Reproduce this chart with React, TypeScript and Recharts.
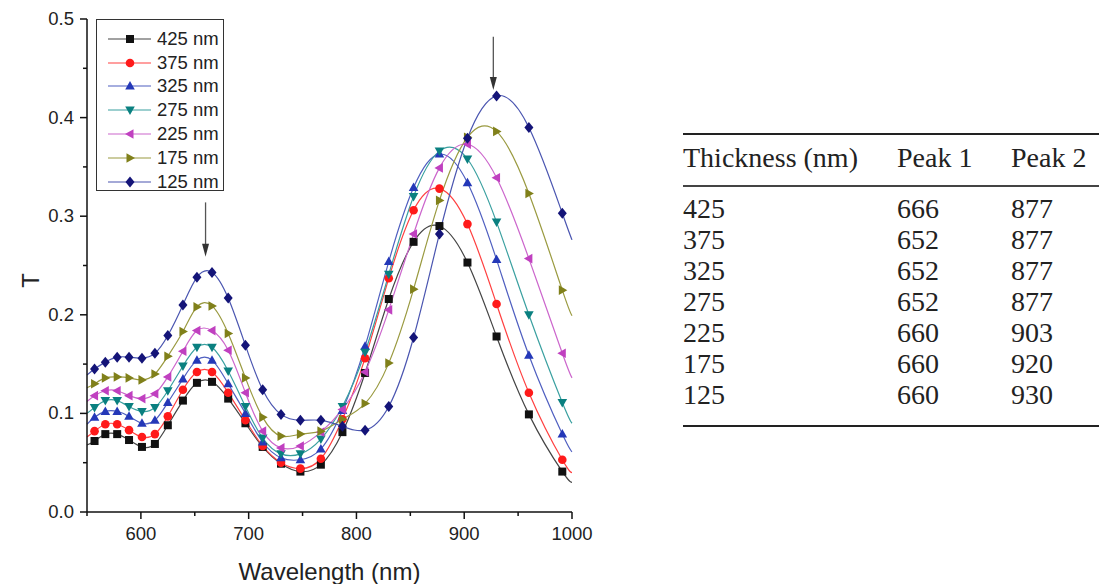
import React from 'react';
import { LineChart, Line, XAxis, YAxis, ReferenceLine } from 'recharts';

// wavelength grid (nm); first and last points only carry the spline to the axis ends
const wavelengths = [550, 557, 567, 578, 589, 601, 613, 625, 639, 652, 666, 681, 697, 713, 730, 748, 767, 787, 808, 830, 853, 877, 903, 930, 960, 991, 1000];

const t425 = [0.068, 0.072, 0.079, 0.079, 0.073, 0.066, 0.069, 0.088, 0.113, 0.131, 0.132, 0.115, 0.090, 0.066, 0.049, 0.041, 0.048, 0.081, 0.141, 0.216, 0.274, 0.290, 0.253, 0.178, 0.099, 0.041, 0.030];
const t375 = [0.076, 0.082, 0.089, 0.089, 0.083, 0.076, 0.079, 0.097, 0.124, 0.142, 0.142, 0.121, 0.093, 0.067, 0.050, 0.044, 0.054, 0.094, 0.156, 0.237, 0.306, 0.328, 0.292, 0.211, 0.121, 0.053, 0.040];
const t325 = [0.089, 0.096, 0.102, 0.102, 0.097, 0.090, 0.093, 0.111, 0.135, 0.154, 0.154, 0.130, 0.100, 0.071, 0.055, 0.053, 0.064, 0.103, 0.168, 0.254, 0.329, 0.363, 0.334, 0.256, 0.159, 0.079, 0.061];
const t275 = [0.100, 0.106, 0.113, 0.113, 0.107, 0.102, 0.106, 0.123, 0.148, 0.167, 0.167, 0.143, 0.107, 0.075, 0.059, 0.059, 0.074, 0.107, 0.162, 0.241, 0.320, 0.366, 0.358, 0.294, 0.200, 0.111, 0.090];
const t225 = [0.112, 0.118, 0.123, 0.123, 0.118, 0.115, 0.120, 0.137, 0.163, 0.184, 0.184, 0.164, 0.121, 0.082, 0.065, 0.067, 0.081, 0.104, 0.142, 0.205, 0.282, 0.349, 0.373, 0.339, 0.257, 0.161, 0.136];
const t175 = [0.126, 0.130, 0.136, 0.137, 0.136, 0.134, 0.140, 0.158, 0.183, 0.208, 0.209, 0.181, 0.136, 0.096, 0.077, 0.079, 0.082, 0.094, 0.110, 0.151, 0.226, 0.316, 0.380, 0.386, 0.323, 0.225, 0.199];
const t125 = [0.139, 0.145, 0.152, 0.157, 0.157, 0.156, 0.161, 0.179, 0.210, 0.238, 0.243, 0.217, 0.169, 0.124, 0.099, 0.093, 0.093, 0.087, 0.083, 0.107, 0.177, 0.282, 0.379, 0.422, 0.390, 0.303, 0.276];

const xTicks = [550, 600, 650, 700, 750, 800, 850, 900, 950, 1000];
const yTicks = [0, 0.05, 0.1, 0.15, 0.2, 0.25, 0.3, 0.35, 0.4, 0.45, 0.5];

// table values
const thickness = ['425', '375', '325', '275', '225', '175', '125'];
const peak1 = ['666', '652', '652', '652', '660', '660', '660'];
const peak2 = ['877', '877', '877', '877', '903', '920', '930'];

type Shape = 'square' | 'circle' | 'up' | 'down' | 'left' | 'right' | 'diamond';

const series: { key: string; name: string; values: number[]; color: string; line: string; shape: Shape }[] = [
  { key: 's425', name: '425 nm', values: t425, color: '#111111', line: '#444444', shape: 'square' },
  { key: 's375', name: '375 nm', values: t375, color: '#ff1a1a', line: '#ff4040', shape: 'circle' },
  { key: 's325', name: '325 nm', values: t325, color: '#2438b8', line: '#4f5fc0', shape: 'up' },
  { key: 's275', name: '275 nm', values: t275, color: '#0a8080', line: '#3aa0a0', shape: 'down' },
  { key: 's225', name: '225 nm', values: t225, color: '#c040c0', line: '#cc66cc', shape: 'left' },
  { key: 's175', name: '175 nm', values: t175, color: '#80801a', line: '#9a9a40', shape: 'right' },
  { key: 's125', name: '125 nm', values: t125, color: '#141478', line: '#4a55b0', shape: 'diamond' },
];

const data = wavelengths.map((wl, i) => {
  const row: Record<string, number> = { wl };
  series.forEach(s => { row[s.key] = s.values[i]; });
  return row;
});

const Marker = ({ cx, cy, shape, color }: { cx: number; cy: number; shape: Shape; color: string }) => {
  const s = 4;
  switch (shape) {
    case 'square':
      return <rect x={cx - s} y={cy - s} width={2 * s} height={2 * s} fill={color} />;
    case 'circle':
      return <circle cx={cx} cy={cy} r={s + 0.3} fill={color} />;
    case 'up':
      return <polygon points={`${cx},${cy - 5} ${cx + 4.8},${cy + 3.5} ${cx - 4.8},${cy + 3.5}`} fill={color} />;
    case 'down':
      return <polygon points={`${cx},${cy + 5} ${cx + 4.8},${cy - 3.5} ${cx - 4.8},${cy - 3.5}`} fill={color} />;
    case 'left':
      return <polygon points={`${cx - 5},${cy} ${cx + 3.5},${cy - 4.8} ${cx + 3.5},${cy + 4.8}`} fill={color} />;
    case 'right':
      return <polygon points={`${cx + 5},${cy} ${cx - 3.5},${cy - 4.8} ${cx - 3.5},${cy + 4.8}`} fill={color} />;
    default:
      return <polygon points={`${cx},${cy - 5.5} ${cx + 4.5},${cy} ${cx},${cy + 5.5} ${cx - 4.5},${cy}`} fill={color} />;
  }
};

const XTick = (props: any) => {
  const { x, y, payload } = props;
  const major = payload.value % 100 === 0;
  return (
    <g>
      <line x1={x} x2={x} y1={y} y2={y + (major ? 7 : 4)} stroke="#111" strokeWidth={1.5} />
      {major && (
        <text x={x} y={y + 28} textAnchor="middle" fontSize={18.5} fill="#222">{payload.value}</text>
      )}
    </g>
  );
};

const YTick = (props: any) => {
  const { x, y, payload } = props;
  const major = Math.round(payload.value * 100) % 10 === 0;
  return (
    <g>
      <line x1={x - (major ? 7 : 4)} x2={x} y1={y} y2={y} stroke="#111" strokeWidth={1.5} />
      {major && (
        <text x={x - 13} y={y + 6} textAnchor="end" fontSize={18.5} fill="#222">{payload.value.toFixed(1)}</text>
      )}
    </g>
  );
};

const Arrow = (props: any) => {
  const { x1, y1, x2, y2 } = props;
  return (
    <g>
      <line x1={x1} y1={y1} x2={x2} y2={y2 - 10} stroke="#555" strokeWidth={1.3} />
      <polygon points={`${x2},${y2} ${x2 - 3.5},${y2 - 13} ${x2 + 3.5},${y2 - 13}`} fill="#333" />
    </g>
  );
};

const LegendBox = () => (
  <div
    style={{
      position: 'absolute', left: 96, top: 19, width: 128, height: 172,
      border: '1.5px solid #333', background: '#fff', paddingTop: 7, boxSizing: 'border-box',
    }}
  >
    {series.map(s => (
      <div key={s.key} style={{ height: 23.8, display: 'flex', alignItems: 'center' }}>
        <svg width={58} height={20} style={{ marginLeft: 8 }}>
          <line x1={3} x2={46} y1={10} y2={10} stroke={s.line} strokeWidth={1.2} />
          <Marker cx={25} cy={10} shape={s.shape} color={s.color} />
        </svg>
        <span style={{ fontSize: 18.5, color: '#222', marginLeft: -6 }}>{s.name}</span>
      </div>
    ))}
  </div>
);

const tableTextStyle: React.CSSProperties = {
  position: 'absolute', fontFamily: '"Liberation Serif", "Times New Roman", serif',
  fontSize: 28, lineHeight: '31px', color: '#222', whiteSpace: 'nowrap',
};

const PeakTable = () => (
  <>
    <div style={{ position: 'absolute', left: 683, top: 132.5, width: 416, height: 2.5, background: '#222' }} />
    <div style={{ ...tableTextStyle, left: 683, top: 142 }}>Thickness (nm)</div>
    <div style={{ ...tableTextStyle, left: 897, top: 142 }}>Peak 1</div>
    <div style={{ ...tableTextStyle, left: 1011, top: 142 }}>Peak 2</div>
    <div style={{ position: 'absolute', left: 683, top: 185, width: 416, height: 1.5, background: '#444' }} />
    {thickness.map((t, i) => (
      <React.Fragment key={t}>
        <div style={{ ...tableTextStyle, left: 683, top: 192.5 + i * 31.1 }}>{t}</div>
        <div style={{ ...tableTextStyle, left: 897, top: 192.5 + i * 31.1 }}>{peak1[i]}</div>
        <div style={{ ...tableTextStyle, left: 1011, top: 192.5 + i * 31.1 }}>{peak2[i]}</div>
      </React.Fragment>
    ))}
    <div style={{ position: 'absolute', left: 683, top: 424.5, width: 416, height: 2.5, background: '#222' }} />
  </>
);

export default function App() {
  const last = wavelengths.length - 1;
  return (
    <div
      style={{
        position: 'absolute', left: 0, top: 0, width: 1099, height: 584, overflow: 'hidden',
        background: '#fff', fontFamily: '"Liberation Sans", Arial, sans-serif',
      }}
    >
      <LineChart width={600} height={584} data={data} margin={{ top: 19, right: 28, left: 0, bottom: 0 }}>
        <XAxis
          dataKey="wl"
          type="number"
          domain={[550, 1000]}
          ticks={xTicks}
          interval={0}
          tick={<XTick />}
          tickLine={false}
          tickSize={0}
          tickMargin={0}
          height={72}
          axisLine={{ stroke: '#111', strokeWidth: 1.5 }}
          label={{
            content: (p: any) => {
              const vb = p.viewBox;
              return (
                <text x={vb.x + vb.width / 2} y={vb.y + 68} textAnchor="middle" fontSize={24} fill="#222">
                  Wavelength (nm)
                </text>
              );
            },
          }}
        />
        <YAxis
          type="number"
          domain={[0, 0.5]}
          ticks={yTicks}
          interval={0}
          width={87}
          tick={<YTick />}
          tickLine={false}
          tickSize={0}
          tickMargin={0}
          axisLine={{ stroke: '#111', strokeWidth: 1.5 }}
          label={{
            content: (p: any) => {
              const vb = p.viewBox;
              const cx = vb.x + 30;
              const cy = vb.y + vb.height / 2 + 15;
              return (
                <text x={cx} y={cy} transform={`rotate(-90 ${cx} ${cy})`} textAnchor="middle" dominantBaseline="central" fontSize={24} fill="#222">
                  T
                </text>
              );
            },
          }}
        />
        {series.map(s => (
          <Line
            key={s.key}
            type="natural"
            dataKey={s.key}
            name={s.name}
            stroke={s.line}
            strokeWidth={1.2}
            isAnimationActive={false}
            activeDot={false}
            dot={(p: any) =>
              p.index === 0 || p.index === last ? (
                <g key={`${s.key}-${p.index}`} />
              ) : (
                <Marker key={`${s.key}-${p.index}`} cx={p.cx} cy={p.cy} shape={s.shape} color={s.color} />
              )
            }
          />
        ))}
        <ReferenceLine segment={[{ x: 660, y: 0.314 }, { x: 660, y: 0.259 }]} shape={<Arrow />} />
        <ReferenceLine segment={[{ x: 927, y: 0.482 }, { x: 927, y: 0.428 }]} shape={<Arrow />} />
      </LineChart>
      <LegendBox />
      <PeakTable />
    </div>
  );
}
